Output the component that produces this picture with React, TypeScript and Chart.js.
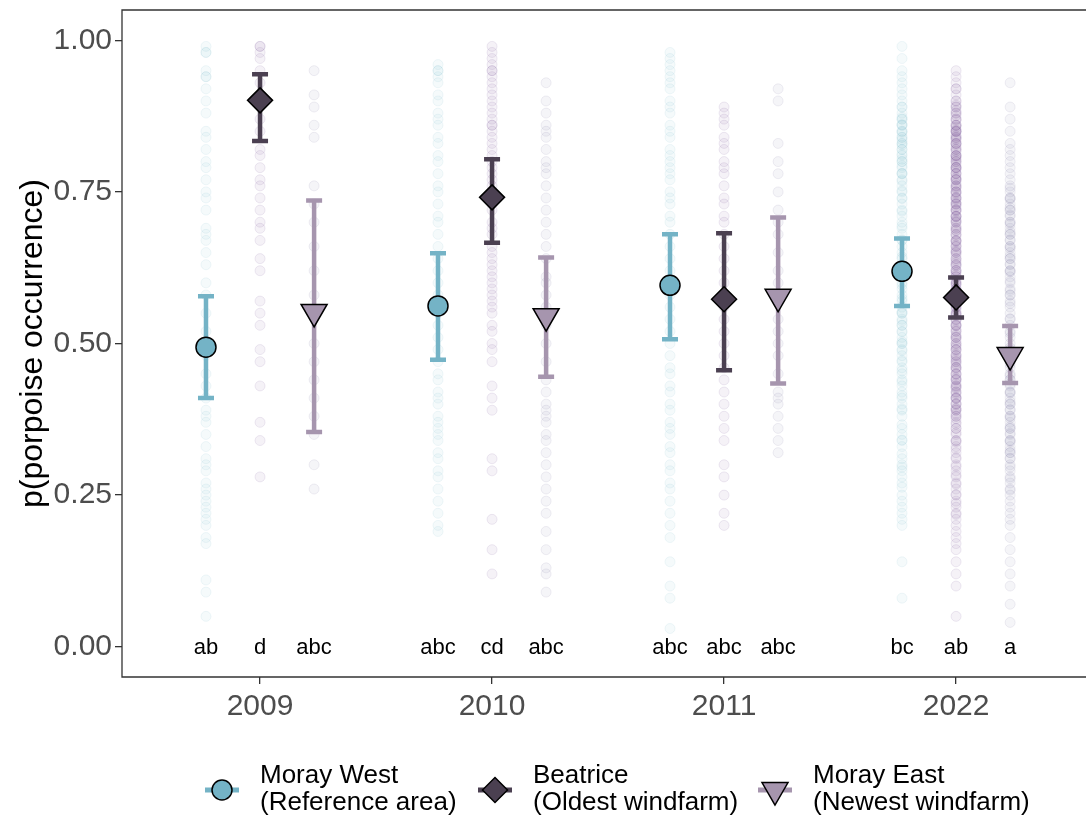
import React, { useEffect, useRef } from "react";
import { Chart, registerables } from "chart.js";

Chart.register(...registerables);

// ---------------- data ----------------
const years = ["2009", "2010", "2011", "2022"];
const siteNames = ["Moray West", "Beatrice", "Moray East"];
const siteNotes = ["(Reference area)", "(Oldest windfarm)", "(Newest windfarm)"];
const yTickValues = [0, 0.25, 0.5, 0.75, 1];

const moraywestMean = [0.494, 0.562, 0.596, 0.619];
const moraywestLow = [0.41, 0.473, 0.507, 0.562];
const moraywestHigh = [0.578, 0.649, 0.68, 0.673];

const beatriceMean = [0.901, 0.741, 0.573, 0.576];
const beatriceLow = [0.834, 0.666, 0.456, 0.543];
const beatriceHigh = [0.944, 0.804, 0.682, 0.609];

const morayeastMean = [0.552, 0.545, 0.577, 0.481];
const morayeastLow = [0.354, 0.445, 0.434, 0.435];
const morayeastHigh = [0.736, 0.642, 0.708, 0.529];

const moraywestLetters = ["ab", "abc", "abc", "bc"];
const beatriceLetters = ["d", "cd", "abc", "ab"];
const morayeastLetters = ["abc", "abc", "abc", "a"];

// raw per-deployment values (faint background points)
const moraywestRaw2009 = [0.99, 0.98, 0.98, 0.95, 0.94, 0.94, 0.92, 0.9, 0.88, 0.85, 0.84, 0.82, 0.8, 0.79, 0.77, 0.75, 0.74, 0.72, 0.69, 0.68, 0.67, 0.65, 0.63, 0.6, 0.58, 0.55, 0.52, 0.48, 0.45, 0.43, 0.41, 0.39, 0.38, 0.37, 0.35, 0.33, 0.31, 0.3, 0.29, 0.27, 0.26, 0.25, 0.24, 0.23, 0.22, 0.21, 0.2, 0.18, 0.17, 0.11, 0.09, 0.05];
const moraywestRaw2010 = [0.96, 0.95, 0.95, 0.94, 0.93, 0.91, 0.9, 0.88, 0.87, 0.86, 0.84, 0.83, 0.81, 0.8, 0.78, 0.76, 0.75, 0.73, 0.71, 0.7, 0.68, 0.66, 0.64, 0.62, 0.6, 0.58, 0.55, 0.53, 0.51, 0.49, 0.47, 0.45, 0.44, 0.42, 0.41, 0.4, 0.38, 0.37, 0.36, 0.35, 0.34, 0.32, 0.31, 0.29, 0.28, 0.26, 0.24, 0.22, 0.2, 0.19];
const moraywestRaw2011 = [0.98, 0.97, 0.96, 0.95, 0.94, 0.93, 0.92, 0.9, 0.89, 0.88, 0.86, 0.85, 0.84, 0.82, 0.81, 0.8, 0.79, 0.78, 0.77, 0.75, 0.74, 0.73, 0.71, 0.7, 0.68, 0.66, 0.64, 0.62, 0.6, 0.58, 0.56, 0.54, 0.52, 0.5, 0.48, 0.46, 0.45, 0.43, 0.42, 0.4, 0.39, 0.37, 0.36, 0.35, 0.33, 0.32, 0.3, 0.29, 0.27, 0.26, 0.24, 0.22, 0.2, 0.18, 0.14, 0.1, 0.08, 0.03];
const moraywestRaw2022 = [0.99, 0.97, 0.95, 0.94, 0.93, 0.92, 0.91, 0.9, 0.89, 0.89, 0.88, 0.87, 0.87, 0.86, 0.86, 0.85, 0.85, 0.84, 0.84, 0.83, 0.83, 0.82, 0.82, 0.81, 0.8, 0.8, 0.79, 0.78, 0.78, 0.77, 0.76, 0.75, 0.74, 0.73, 0.72, 0.71, 0.7, 0.69, 0.68, 0.67, 0.66, 0.65, 0.64, 0.63, 0.62, 0.61, 0.6, 0.59, 0.58, 0.57, 0.56, 0.55, 0.55, 0.54, 0.53, 0.53, 0.52, 0.51, 0.5, 0.5, 0.49, 0.48, 0.47, 0.46, 0.45, 0.44, 0.43, 0.42, 0.41, 0.4, 0.39, 0.38, 0.36, 0.35, 0.34, 0.33, 0.31, 0.3, 0.29, 0.28, 0.27, 0.25, 0.24, 0.23, 0.22, 0.21, 0.2, 0.14, 0.08,
  0.873, 0.861, 0.848, 0.836, 0.827, 0.812, 0.804, 0.793, 0.781, 0.768, 0.752, 0.739, 0.718, 0.694, 0.671, 0.643, 0.618, 0.596, 0.574, 0.552, 0.537, 0.519, 0.503, 0.488, 0.472, 0.455, 0.437, 0.414, 0.392, 0.366, 0.341, 0.318, 0.296, 0.263];

const beatriceRaw2009 = [0.99, 0.99, 0.98, 0.97, 0.95, 0.93, 0.91, 0.87, 0.85, 0.82, 0.81, 0.79, 0.77, 0.76, 0.74, 0.72, 0.7, 0.69, 0.67, 0.64, 0.62, 0.57, 0.55, 0.53, 0.49, 0.47, 0.43, 0.37, 0.34, 0.28];
const beatriceRaw2010 = [0.99, 0.98, 0.97, 0.96, 0.95, 0.95, 0.94, 0.93, 0.92, 0.91, 0.9, 0.89, 0.88, 0.87, 0.86, 0.86, 0.85, 0.84, 0.83, 0.82, 0.81, 0.8, 0.79, 0.78, 0.77, 0.76, 0.74, 0.73, 0.72, 0.7, 0.69, 0.68, 0.66, 0.65, 0.64, 0.63, 0.62, 0.61, 0.6, 0.59, 0.58, 0.57, 0.56, 0.55, 0.53, 0.52, 0.5, 0.49, 0.47, 0.43, 0.41, 0.39, 0.31, 0.29, 0.21, 0.16, 0.12];
const beatriceRaw2011 = [0.89, 0.88, 0.87, 0.86, 0.84, 0.83, 0.82, 0.8, 0.79, 0.78, 0.76, 0.74, 0.73, 0.71, 0.7, 0.68, 0.66, 0.64, 0.62, 0.6, 0.58, 0.56, 0.54, 0.52, 0.5, 0.48, 0.46, 0.44, 0.42, 0.4, 0.38, 0.36, 0.34, 0.3, 0.28, 0.25, 0.22, 0.2];
const beatriceRaw2022 = [0.95, 0.94, 0.93, 0.92, 0.92, 0.91, 0.9, 0.9, 0.89, 0.89, 0.88, 0.88, 0.87, 0.87, 0.86, 0.86, 0.86, 0.85, 0.85, 0.85, 0.84, 0.84, 0.83, 0.83, 0.83, 0.82, 0.82, 0.81, 0.81, 0.81, 0.8, 0.8, 0.79, 0.79, 0.79, 0.78, 0.78, 0.77, 0.77, 0.77, 0.76, 0.76, 0.75, 0.75, 0.75, 0.74, 0.74, 0.73, 0.73, 0.73, 0.72, 0.72, 0.71, 0.71, 0.71, 0.7, 0.7, 0.69, 0.69, 0.68, 0.68, 0.67, 0.67, 0.66, 0.66, 0.65, 0.65, 0.64, 0.64, 0.63, 0.63, 0.62, 0.62, 0.61, 0.61, 0.6, 0.6, 0.59, 0.59, 0.58, 0.58, 0.57, 0.57, 0.56, 0.56, 0.55, 0.55, 0.54, 0.54, 0.53, 0.53, 0.52, 0.52, 0.51, 0.51, 0.5, 0.5, 0.49, 0.49, 0.48, 0.48, 0.47, 0.47, 0.46, 0.46, 0.45, 0.45, 0.44, 0.44, 0.43, 0.43, 0.42, 0.42, 0.41, 0.41, 0.4, 0.4, 0.39, 0.39, 0.38, 0.38, 0.37, 0.36, 0.36, 0.35, 0.34, 0.34, 0.33, 0.32, 0.31, 0.3, 0.29, 0.28, 0.27, 0.26, 0.25, 0.24, 0.23, 0.22, 0.21, 0.2, 0.19, 0.18, 0.17, 0.16, 0.14, 0.12, 0.1, 0.05,
  0.893, 0.884, 0.876, 0.868, 0.857, 0.849, 0.843, 0.836, 0.828, 0.817, 0.809, 0.803, 0.796, 0.787, 0.781, 0.772, 0.764, 0.758, 0.747, 0.741, 0.733, 0.726, 0.718, 0.709, 0.702, 0.694, 0.686, 0.677, 0.669, 0.662, 0.654, 0.646, 0.637, 0.628, 0.621, 0.613, 0.604, 0.596, 0.588, 0.579, 0.571, 0.563, 0.556, 0.547, 0.538, 0.531, 0.523, 0.514, 0.506, 0.497, 0.489, 0.482, 0.473, 0.466, 0.457, 0.449, 0.441, 0.434, 0.426, 0.417, 0.409, 0.401, 0.392, 0.384, 0.376, 0.367, 0.353, 0.338, 0.326, 0.312, 0.297, 0.283, 0.268, 0.251, 0.236, 0.218,
  0.852, 0.838, 0.823, 0.806, 0.791, 0.774, 0.756, 0.738, 0.721, 0.704, 0.687, 0.668, 0.652, 0.633, 0.617, 0.598, 0.582, 0.566, 0.548, 0.529, 0.511, 0.494, 0.476, 0.461, 0.443, 0.428, 0.411, 0.393];

const morayeastRaw2009 = [0.95, 0.91, 0.89, 0.86, 0.84, 0.76, 0.73, 0.7, 0.66, 0.62, 0.58, 0.55, 0.5, 0.47, 0.44, 0.41, 0.38, 0.35, 0.3, 0.26];
const morayeastRaw2010 = [0.93, 0.9, 0.88, 0.86, 0.85, 0.84, 0.82, 0.8, 0.79, 0.78, 0.76, 0.74, 0.72, 0.7, 0.68, 0.66, 0.64, 0.61, 0.6, 0.58, 0.56, 0.53, 0.5, 0.47, 0.44, 0.42, 0.4, 0.39, 0.38, 0.37, 0.35, 0.34, 0.32, 0.3, 0.28, 0.26, 0.24, 0.22, 0.19, 0.16, 0.13, 0.12, 0.09];
const morayeastRaw2011 = [0.92, 0.9, 0.83, 0.8, 0.78, 0.75, 0.72, 0.7, 0.68, 0.65, 0.62, 0.6, 0.57, 0.54, 0.52, 0.5, 0.48, 0.45, 0.42, 0.41, 0.4, 0.38, 0.36, 0.34, 0.32];
const morayeastRaw2022 = [0.93, 0.89, 0.87, 0.85, 0.83, 0.82, 0.81, 0.8, 0.79, 0.78, 0.77, 0.76, 0.75, 0.74, 0.74, 0.73, 0.72, 0.72, 0.71, 0.7, 0.7, 0.69, 0.68, 0.68, 0.67, 0.66, 0.66, 0.65, 0.64, 0.64, 0.63, 0.62, 0.62, 0.61, 0.6, 0.59, 0.58, 0.58, 0.57, 0.56, 0.55, 0.54, 0.53, 0.52, 0.51, 0.5, 0.49, 0.48, 0.47, 0.46, 0.45, 0.44, 0.44, 0.43, 0.42, 0.42, 0.41, 0.4, 0.4, 0.39, 0.38, 0.38, 0.37, 0.36, 0.36, 0.35, 0.34, 0.34, 0.33, 0.32, 0.32, 0.31, 0.3, 0.29, 0.28, 0.27, 0.26, 0.25, 0.24, 0.23, 0.22, 0.21, 0.2, 0.18, 0.16, 0.14, 0.12, 0.1, 0.07, 0.04,
  0.756, 0.738, 0.724, 0.712, 0.697, 0.684, 0.671, 0.657, 0.644, 0.631, 0.618, 0.603, 0.587, 0.566, 0.541, 0.517, 0.493, 0.466, 0.447, 0.433, 0.418, 0.404, 0.391, 0.377, 0.363, 0.352, 0.338, 0.324, 0.311, 0.296, 0.277, 0.258];

// ---------------- style ----------------
const FONT = "'Liberation Sans', Arial, Helvetica, sans-serif";
const siteColors = ["#74B3C6", "#4B4051", "#A695AE"];
const rawRgb = ["116,179,198", "110,70,142", "118,108,152"];
const dodge = [-0.233, 0, 0.233];
const markerStyles = ["circle", "rectRot", "triangle"];
const markerRadius = [10, 12.5, 15];
const markerRotation = [0, 0, 180];
const W = 1086;
const H = 821;

const means = [moraywestMean, beatriceMean, morayeastMean];
const lows = [moraywestLow, beatriceLow, morayeastLow];
const highs = [moraywestHigh, beatriceHigh, morayeastHigh];
const letters = [moraywestLetters, beatriceLetters, morayeastLetters];
const raws = [
  [moraywestRaw2009, moraywestRaw2010, moraywestRaw2011, moraywestRaw2022],
  [beatriceRaw2009, beatriceRaw2010, beatriceRaw2011, beatriceRaw2022],
  [morayeastRaw2009, morayeastRaw2010, morayeastRaw2011, morayeastRaw2022],
];

function drawMarker(ctx: CanvasRenderingContext2D, s: number, x: number, y: number) {
  const r = markerRadius[s];
  ctx.beginPath();
  if (s === 0) {
    ctx.arc(x, y, r, 0, Math.PI * 2);
  } else if (s === 1) {
    ctx.moveTo(x - r, y);
    ctx.lineTo(x, y - r);
    ctx.lineTo(x + r, y);
    ctx.lineTo(x, y + r);
  } else {
    const a = (Math.PI * 2) / 3;
    for (let k = 0; k < 3; k++) {
      const ang = Math.PI + k * a;
      const px = x + Math.sin(ang) * r;
      const py = y - Math.cos(ang) * r;
      if (k === 0) ctx.moveTo(px, py);
      else ctx.lineTo(px, py);
    }
  }
  ctx.closePath();
  ctx.fillStyle = siteColors[s];
  ctx.fill();
  ctx.lineWidth = 1.5;
  ctx.strokeStyle = "#000";
  ctx.stroke();
}

const overlayPlugin = {
  id: "overlay",
  beforeDatasetsDraw(chart: any) {
    chart.$barsDone = false;
  },
  beforeDatasetDraw(chart: any, args: any) {
    const ds = chart.data.datasets[args.index];
    if (ds.kind !== "mean" || chart.$barsDone) return;
    chart.$barsDone = true;
    const ctx = chart.ctx as CanvasRenderingContext2D;
    const xs = chart.scales.x;
    const ys = chart.scales.y;
    ctx.save();
    ctx.lineWidth = 4.5;
    ctx.lineCap = "butt";
    const cap = 8;
    for (let s = 0; s < 3; s++) {
      ctx.strokeStyle = siteColors[s];
      for (let i = 0; i < years.length; i++) {
        const px = xs.getPixelForValue(i + 1 + dodge[s]);
        const y1 = ys.getPixelForValue(lows[s][i]);
        const y2 = ys.getPixelForValue(highs[s][i]);
        ctx.beginPath();
        ctx.moveTo(px, y1);
        ctx.lineTo(px, y2);
        ctx.moveTo(px - cap, y1);
        ctx.lineTo(px + cap, y1);
        ctx.moveTo(px - cap, y2);
        ctx.lineTo(px + cap, y2);
        ctx.stroke();
      }
    }
    ctx.restore();
  },
  afterDatasetsDraw(chart: any) {
    const ctx = chart.ctx as CanvasRenderingContext2D;
    const xs = chart.scales.x;
    const ys = chart.scales.y;
    const a = chart.chartArea;
    ctx.save();
    ctx.font = `22px ${FONT}`;
    ctx.fillStyle = "#000";
    ctx.textAlign = "center";
    ctx.textBaseline = "middle";
    const y0 = ys.getPixelForValue(0);
    for (let s = 0; s < 3; s++) {
      for (let i = 0; i < years.length; i++) {
        ctx.fillText(letters[s][i], xs.getPixelForValue(i + 1 + dodge[s]), y0 + 1);
      }
    }
    ctx.strokeStyle = "#333333";
    ctx.lineWidth = 1.3;
    ctx.beginPath();
    ctx.moveTo(a.right + 5, a.top);
    ctx.lineTo(a.left, a.top);
    ctx.lineTo(a.left, a.bottom);
    ctx.lineTo(a.right + 5, a.bottom);
    ctx.stroke();
    ctx.restore();
  },
  afterDraw(chart: any) {
    const ctx = chart.ctx as CanvasRenderingContext2D;
    const a = chart.chartArea;
    ctx.save();
    ctx.translate(33, (a.top + a.bottom) / 2);
    ctx.rotate(-Math.PI / 2);
    ctx.font = `32px ${FONT}`;
    ctx.fillStyle = "#000";
    ctx.textAlign = "center";
    ctx.textBaseline = "middle";
    ctx.fillText("p(porpoise occurrence)", 0, 0);
    ctx.restore();

    const textX = [260, 533, 813];
    const keyY = 790;
    ctx.save();
    for (let s = 0; s < 3; s++) {
      const cx = textX[s] - 38;
      ctx.strokeStyle = siteColors[s];
      ctx.lineWidth = 5;
      ctx.beginPath();
      ctx.moveTo(cx - 17, keyY);
      ctx.lineTo(cx + 17, keyY);
      ctx.stroke();
      drawMarker(ctx, s, cx, keyY);
      ctx.font = `26px ${FONT}`;
      ctx.fillStyle = "#000";
      ctx.textAlign = "left";
      ctx.textBaseline = "middle";
      ctx.fillText(siteNames[s], textX[s], 776);
      ctx.fillText(siteNotes[s], textX[s], 803);
    }
    ctx.restore();
  },
};

export default function App() {
  const ref = useRef<HTMLCanvasElement | null>(null);

  useEffect(() => {
    if (!ref.current) return;
    const meanSets = [0, 1, 2].map((s) => ({
      kind: "mean",
      label: siteNames[s],
      data: means[s].map((v, i) => ({ x: i + 1 + dodge[s], y: v })),
      pointStyle: markerStyles[s],
      pointRadius: markerRadius[s],
      pointRotation: markerRotation[s],
      backgroundColor: siteColors[s],
      borderColor: "#000",
      pointBorderWidth: 1.5,
      showLine: false,
      order: 0,
    }));
    const rawSets = [0, 1, 2].map((s) => {
      const pts: { x: number; y: number }[] = [];
      raws[s].forEach((arr, i) => arr.forEach((v) => pts.push({ x: i + 1 + dodge[s], y: v })));
      return {
        kind: "raw",
        label: siteNames[s] + " raw",
        data: pts,
        pointStyle: "circle",
        pointRadius: 5,
        backgroundColor: `rgba(${rawRgb[s]},0.07)`,
        borderColor: `rgba(${rawRgb[s]},0.11)`,
        pointBorderWidth: 1,
        showLine: false,
        order: 1,
      };
    });

    const xMin = 0.405;
    const xMax = 4.56;

    const chart = new Chart(ref.current, {
      type: "scatter",
      data: { datasets: [...meanSets, ...rawSets] as any },
      plugins: [overlayPlugin as any],
      options: {
        responsive: false,
        animation: false,
        events: [],
        layout: { autoPadding: false, padding: { top: 10, right: 0, bottom: 84, left: 0 } },
        plugins: { legend: { display: false }, tooltip: { enabled: false } },
        scales: {
          x: {
            type: "linear",
            min: xMin,
            max: xMax,
            afterBuildTicks: (s: any) => {
              s.ticks = years.map((_, i) => ({ value: i + 1 }));
            },
            afterFit: (s: any) => {
              s.height = 60;
              s.paddingLeft = 0;
              s.paddingRight = 0;
              s.paddingTop = 0;
              s.paddingBottom = 0;
            },
            ticks: {
              callback: (v: any) => years[Math.round(Number(v)) - 1] ?? "",
              font: { family: FONT, size: 30 },
              color: "#4D4D4D",
              padding: 5,
              maxRotation: 0,
              autoSkip: false,
            },
            grid: { drawOnChartArea: false, drawTicks: true, tickLength: 7, color: "#333333", lineWidth: 1.3 },
            border: { display: false },
          },
          y: {
            type: "linear",
            min: -0.05,
            max: 1.05,
            afterBuildTicks: (s: any) => {
              s.ticks = yTickValues.map((v) => ({ value: v }));
            },
            afterFit: (s: any) => {
              s.width = 122;
              s.paddingLeft = 0;
              s.paddingRight = 0;
              s.paddingTop = 0;
              s.paddingBottom = 0;
            },
            ticks: {
              callback: (v: any) => Number(v).toFixed(2),
              font: { family: FONT, size: 30 },
              color: "#4D4D4D",
              padding: 3,
            },
            grid: { drawOnChartArea: false, drawTicks: true, tickLength: 7, color: "#333333", lineWidth: 1.3 },
            border: { display: false },
          },
        },
      } as any,
    });
    return () => chart.destroy();
  }, []);

  return (
    <canvas
      ref={ref}
      width={W}
      height={H}
      style={{ position: "absolute", left: 0, top: 0, width: W, height: H, background: "#fff" }}
    />
  );
}
